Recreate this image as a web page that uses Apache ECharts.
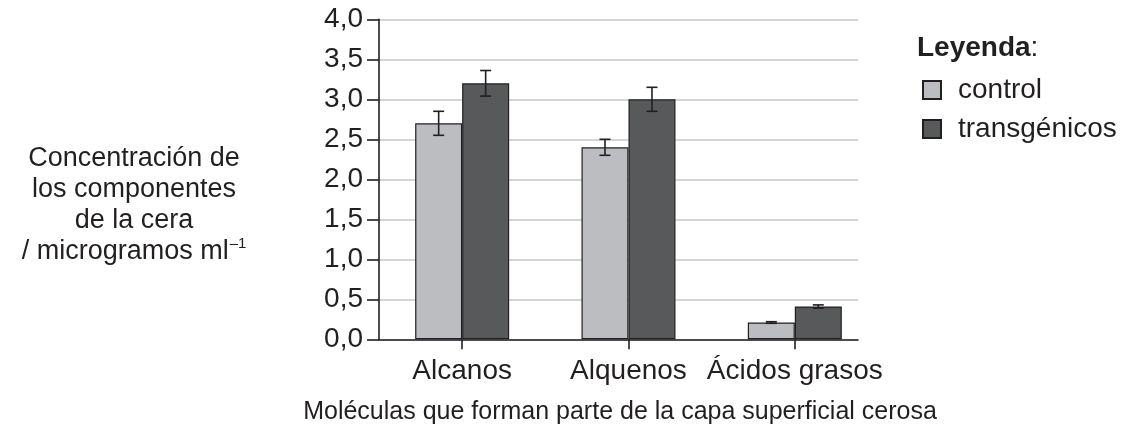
<!DOCTYPE html>
<html>
<head>
<meta charset="utf-8">
<script src="https://cdn.jsdelivr.net/npm/echarts@6/dist/echarts.min.js"></script>
<style>html,body{margin:0;padding:0;background:#fff;}#c{width:1131px;height:433px;}</style>
</head>
<body>
<div id="c"></div>
<script>
var categories = ['Alcanos', 'Alquenos', 'Ácidos grasos'];
var seriesNames = ['control', 'transgénicos'];
var controlValues = [2.7, 2.4, 0.21];
var transValues = [3.2, 3.0, 0.41];
var controlErr = [0.15, 0.1, 0.01];
var transErr = [0.16, 0.15, 0.02];
var xAxisTitle = 'Moléculas que forman parte de la capa superficial cerosa';
var yAxisTitle = 'Concentración de\nlos componentes\nde la cera\n/ microgramos ml{s|–1}';
var legendTitle = 'Leyenda';

var FONT = '"Liberation Sans", Arial, sans-serif';
var FS = 28;
var INK = '#231f20';
var BAR_W = 47;

function pairs(vals) { return vals.map(function (v, i) { return [i, v]; }); }
function errData(vals, errs, side) {
  return vals.map(function (v, i) { return [i, v - errs[i], v + errs[i], side]; });
}

function renderErr(params, api) {
  var x = api.value(0), lo = api.value(1), hi = api.value(2), side = api.value(3);
  var pLo = api.coord([x, lo]), pHi = api.coord([x, hi]);
  var cx = pLo[0] + side * BAR_W / 2;
  var cap = 5.5;
  var st = { stroke: INK, lineWidth: 1.6 };
  return {
    type: 'group',
    children: [
      { type: 'line', shape: { x1: cx, y1: pLo[1], x2: cx, y2: pHi[1] }, style: st },
      { type: 'line', shape: { x1: cx - cap, y1: pHi[1], x2: cx + cap, y2: pHi[1] }, style: st },
      { type: 'line', shape: { x1: cx - cap, y1: pLo[1], x2: cx + cap, y2: pLo[1] }, style: st }
    ]
  };
}

var chart = echarts.init(document.getElementById('c'));
chart.setOption({
  animation: false,
  backgroundColor: '#fff',
  textStyle: { fontFamily: FONT, color: INK },
  grid: { left: 379, right: 273, top: 19.3, bottom: 93.7, containLabel: false },
  legend: {
    orient: 'vertical',
    left: 917,
    top: 71,
    itemWidth: 18,
    itemHeight: 18,
    itemGap: 11,
    icon: 'rect',
    data: seriesNames,
    textStyle: { fontFamily: FONT, fontSize: FS, color: INK, padding: [0, 0, 0, 12] }
  },
  graphic: [
    {
      type: 'text', left: 917, top: 34,
      style: {
        text: '{b|' + legendTitle + '}{n|:}',
        rich: {
          b: { fontFamily: FONT, fontSize: FS, fontWeight: 'bold', fill: INK },
          n: { fontFamily: FONT, fontSize: FS, fill: INK }
        }
      }
    },
    {
      type: 'text', x: 134, y: 205,
      style: {
        text: yAxisTitle,
        textAlign: 'center',
        textVerticalAlign: 'middle',
        fontFamily: FONT, fontSize: 27, fill: INK, lineHeight: 31,
        rich: {
          s: { fontFamily: FONT, fontSize: 15, fill: INK, verticalAlign: 'top', lineHeight: 31, padding: [0, 0, 12, 1] }
        }
      }
    },
    {
      type: 'text', x: 620, y: 412,
      style: {
        text: xAxisTitle,
        textAlign: 'center',
        textVerticalAlign: 'middle',
        fontFamily: FONT, fontSize: 25, fill: INK
      }
    }
  ],
  xAxis: {
    type: 'value',
    min: -0.5,
    max: 2.38,
    splitLine: { show: false },
    axisLine: { show: true, lineStyle: { color: INK, width: 1.6 } },
    axisTick: { show: true, customValues: [0, 1, 2], length: 10, lineStyle: { color: INK, width: 1.6 } },
    axisLabel: {
      customValues: [0, 1, 2],
      margin: 18,
      fontFamily: FONT, fontSize: FS, color: INK,
      formatter: function (v) { return categories[Math.round(v)]; }
    }
  },
  yAxis: {
    type: 'value',
    min: 0,
    max: 4,
    interval: 0.5,
    axisLine: { show: true, onZero: false, lineStyle: { color: INK, width: 1.6 } },
    axisTick: { show: true, inside: false, length: 12, lineStyle: { color: INK, width: 1.6 } },
    axisLabel: {
      margin: 16,
      fontFamily: FONT, fontSize: FS, color: INK,
      formatter: function (v) { return v.toFixed(1).replace('.', ','); }
    },
    splitLine: { show: true, lineStyle: { color: '#c6c7c9', width: 1.6 } }
  },
  series: [
    {
      name: seriesNames[0], type: 'bar', barWidth: BAR_W, barGap: '0%',
      itemStyle: { color: '#bcbdc0', borderColor: INK, borderWidth: 1.2 },
      data: pairs(controlValues), z: 2
    },
    {
      name: seriesNames[1], type: 'bar', barWidth: BAR_W, barGap: '0%',
      itemStyle: { color: '#58595b', borderColor: INK, borderWidth: 1.2 },
      data: pairs(transValues), z: 2
    },
    {
      type: 'custom', renderItem: renderErr, data: errData(controlValues, controlErr, -1), z: 5,
      encode: { x: 0, y: [1, 2] }, silent: true
    },
    {
      type: 'custom', renderItem: renderErr, data: errData(transValues, transErr, 1), z: 5,
      encode: { x: 0, y: [1, 2] }, silent: true
    }
  ]
});
</script>
</body>
</html>
